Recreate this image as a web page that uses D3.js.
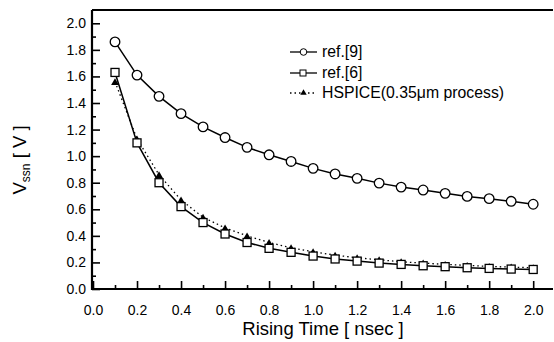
<!DOCTYPE html>
<html>
<head>
<meta charset="utf-8">
<script src="https://cdn.jsdelivr.net/npm/d3@7"></script>
<style>
  body { margin: 0; background: #fff; }
  svg { font-family: "Liberation Sans", Arial, sans-serif; }
</style>
</head>
<body>
<svg width="554" height="342"></svg>
<script>
// rising time (nsec)
var risingTime = [0.1,0.2,0.3,0.4,0.5,0.6,0.7,0.8,0.9,1.0,1.1,1.2,1.3,1.4,1.5,1.6,1.7,1.8,1.9,2.0];
// Vssn values
var ref9 = [1.86,1.61,1.45,1.32,1.22,1.14,1.066,1.01,0.96,0.908,0.866,0.833,0.797,0.767,0.745,0.72,0.697,0.68,0.66,0.638];
var ref6 = [1.63,1.10,0.80,0.62,0.50,0.414,0.35,0.306,0.276,0.248,0.226,0.21,0.195,0.185,0.175,0.168,0.16,0.155,0.15,0.147];
var hspice = [1.56,1.13,0.86,0.67,0.54,0.46,0.40,0.35,0.31,0.28,0.255,0.235,0.22,0.205,0.195,0.185,0.178,0.17,0.165,0.16];
var seriesNames = ["ref.[9]", "ref.[6]", "HSPICE(0.35\u03bcm process)"];
var xTicks = [0.0,0.2,0.4,0.6,0.8,1.0,1.2,1.4,1.6,1.8,2.0];
var yTicks = [0.0,0.2,0.4,0.6,0.8,1.0,1.2,1.4,1.6,1.8,2.0];

var svg = d3.select("svg");
var x = d3.scaleLinear().domain([0, 2.09]).range([93, 553]);
var y = d3.scaleLinear().domain([0, 2.1]).range([289, 10]);

// frame top line
svg.append("line").attr("x1", 92).attr("x2", 553).attr("y1", 10).attr("y2", 10)
    .attr("stroke", "#000").attr("stroke-width", 2);

// axes with inward ticks
var fmt = d3.format(".1f");
var xAxis = svg.append("g").attr("transform", "translate(0,289)")
    .call(d3.axisBottom(x).tickValues(xTicks).tickFormat(fmt).tickSizeInner(-8).tickSizeOuter(0).tickPadding(16));
var xMinor = svg.append("g").attr("transform", "translate(0,289)")
    .call(d3.axisBottom(x).tickValues(d3.range(0.1, 2.01, 0.2)).tickFormat("").tickSizeInner(-4).tickSizeOuter(0));
var yAxis = svg.append("g").attr("transform", "translate(92,0)")
    .call(d3.axisLeft(y).tickValues(yTicks).tickFormat(fmt).tickSizeInner(-8).tickSizeOuter(0).tickPadding(6));
var yMinor = svg.append("g").attr("transform", "translate(92,0)")
    .call(d3.axisLeft(y).tickValues(d3.range(0.1, 2.1, 0.2)).tickFormat("").tickSizeInner(-4).tickSizeOuter(0));

[xAxis, xMinor, yAxis, yMinor].forEach(function(g) {
    g.select(".domain").attr("stroke-width", 2.2);
    g.selectAll(".tick line").attr("stroke-width", 1.6);
    g.selectAll("text").attr("font-size", 14).attr("fill", "#000").attr("font-family", "'Liberation Sans', Arial, sans-serif");
});
xMinor.select(".domain").remove();
yMinor.select(".domain").remove();
xAxis.select(".domain").attr("d", "M92,0H553");
yAxis.select(".domain").attr("d", "M0,290V10");

function pts(vals) {
    return risingTime.map(function(t, i) { return [t, vals[i]]; });
}
var line = d3.line().x(function(d) { return x(d[0]); }).y(function(d) { return y(d[1]); });

// HSPICE dotted
svg.append("path").datum(pts(hspice)).attr("d", line).attr("fill", "none")
    .attr("stroke", "#000").attr("stroke-width", 1.3).attr("stroke-dasharray", "1.5,3");
// ref6 and ref9 solid
svg.append("path").datum(pts(ref6)).attr("d", line).attr("fill", "none").attr("stroke", "#000").attr("stroke-width", 1.5);
svg.append("path").datum(pts(ref9)).attr("d", line).attr("fill", "none").attr("stroke", "#000").attr("stroke-width", 1.5);

var tri = d3.symbol().type(d3.symbolTriangle).size(26);
svg.append("g").selectAll("path").data(pts(hspice)).enter().append("path")
    .attr("d", tri).attr("transform", function(d) { return "translate(" + x(d[0]) + "," + (y(d[1]) + 1) + ")"; })
    .attr("fill", "#000");
svg.append("g").selectAll("rect").data(pts(ref6)).enter().append("rect")
    .attr("x", function(d) { return x(d[0]) - 4; }).attr("y", function(d) { return y(d[1]) - 4; })
    .attr("width", 8).attr("height", 8).attr("fill", "#fff").attr("stroke", "#000").attr("stroke-width", 1.3);
svg.append("g").selectAll("circle").data(pts(ref9)).enter().append("circle")
    .attr("cx", function(d) { return x(d[0]); }).attr("cy", function(d) { return y(d[1]); })
    .attr("r", 4.8).attr("fill", "#fff").attr("stroke", "#000").attr("stroke-width", 1.3);

// legend
var legY = [52, 73, 93];
var lg = svg.append("g");
seriesNames.forEach(function(name, i) {
    var ly = legY[i];
    lg.append("line").attr("x1", 290).attr("x2", 317).attr("y1", ly).attr("y2", ly)
        .attr("stroke", "#000").attr("stroke-width", 1.3)
        .attr("stroke-dasharray", i == 2 ? "1.5,3" : null);
    if (i == 0) lg.append("circle").attr("cx", 303.5).attr("cy", ly).attr("r", 3.3).attr("fill", "#fff").attr("stroke", "#000");
    if (i == 1) lg.append("rect").attr("x", 300).attr("y", ly - 3).attr("width", 6).attr("height", 6).attr("fill", "#fff").attr("stroke", "#000");
    if (i == 2) lg.append("path").attr("d", d3.symbol().type(d3.symbolTriangle).size(18)).attr("transform", "translate(303.5," + ly + ")");
    lg.append("text").attr("x", 322).attr("y", ly + 5).attr("font-size", 15.8).text(name);
});

// axis titles
svg.append("text").attr("x", 323).attr("y", 335).attr("text-anchor", "middle")
    .attr("font-size", 18.5).text("Rising Time [ nsec ]");
var yt = svg.append("text").attr("transform", "translate(26,160) rotate(-90)")
    .attr("text-anchor", "middle").attr("font-size", 18.5);
yt.append("tspan").text("V");
yt.append("tspan").attr("font-size", 12).attr("dy", 4).text("ssn");
yt.append("tspan").attr("dy", -4).text(" [ V ]");
</script>
</body>
</html>
